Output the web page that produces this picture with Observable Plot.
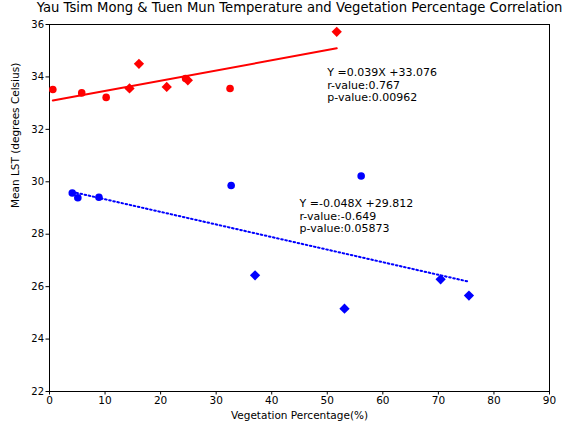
<!DOCTYPE html>
<html><head><meta charset="utf-8">
<script src="https://cdn.jsdelivr.net/npm/d3@7"></script>
<script src="https://cdn.jsdelivr.net/npm/@observablehq/plot@0.6"></script>
<style>body{margin:0;background:#fff;}</style>
</head><body><div id="chart"></div>
<script>
// ---- data ----
const titleText = "Yau Tsim Mong & Tuen Mun Temperature and Vegetation Percentage Correlation";
const xLabel = "Vegetation Percentage(%)";
const yLabel = "Mean LST (degrees Celsius)";
const xTicks = [0, 10, 20, 30, 40, 50, 60, 70, 80, 90];
const yTicks = [22, 24, 26, 28, 30, 32, 34, 36];

// red series (circles / diamonds)
const redCircleVeg  = [0.6, 5.8, 10.2, 24.5, 32.5];
const redCircleLST  = [33.52, 33.39, 33.22, 33.94, 33.56];
const redDiamondVeg = [14.4, 16.1, 21.1, 24.9, 51.7];
const redDiamondLST = [33.56, 34.50, 33.62, 33.87, 35.72];
// blue series (circles / diamonds)
const blueCircleVeg  = [4.1, 5.1, 8.9, 32.7, 56.1];
const blueCircleLST  = [29.57, 29.39, 29.41, 29.86, 30.22];
const blueDiamondVeg = [37.0, 53.1, 70.4, 75.5];
const blueDiamondLST = [26.43, 25.16, 26.28, 25.66];

// regression results printed on the chart
const redSlope = 0.039, redIntercept = 33.076, redR = "0.767", redP = "0.00962";
const blueSlope = -0.048, blueIntercept = 29.812, blueR = "-0.649", blueP = "0.05873";
const annotX = [50, 45];
const annotY = [33, 28];

// ---- build tables ----
const zip = (xs, ys) => xs.map((x, i) => ({x, y: ys[i]}));
const redCircles = zip(redCircleVeg, redCircleLST);
const redDiamonds = zip(redDiamondVeg, redDiamondLST);
const blueCircles = zip(blueCircleVeg, blueCircleLST);
const blueDiamonds = zip(blueDiamondVeg, blueDiamondLST);
const fitLine = (xs, m, b) => d3.extent(xs).map(x => ({x, y: m * x + b}));
const redLine = fitLine([...redCircleVeg, ...redDiamondVeg], redSlope, redIntercept);
const blueLine = fitLine([...blueCircleVeg, ...blueDiamondVeg], blueSlope, blueIntercept);
const annotations = [
  {x: annotX[0], y: annotY[0], text: `Y =${redSlope}X +${redIntercept}\nr-value:${redR}\np-value:${redP}`},
  {x: annotX[1], y: annotY[1], text: `Y =${blueSlope}X +${blueIntercept}\nr-value:${blueR}\np-value:${blueP}`}
];

const chart = Plot.plot({
  width: 568,
  height: 430,
  marginLeft: 49,
  marginRight: 19,
  marginTop: 24,
  marginBottom: 39,
  style: {fontFamily: "DejaVu Sans", fontSize: "10px", background: "white", color: "black"},
  x: {domain: [0, 90]},
  y: {domain: [22, 36]},
  marks: [
    Plot.axisX({ticks: xTicks, tickFormat: d => d, tickSize: 3.5, tickPadding: 2, label: null, fontSize: 10.5}),
    Plot.axisY({ticks: yTicks, tickFormat: d => d, tickSize: 3.5, tickPadding: 2, label: null, fontSize: 10}),
    Plot.frame({stroke: "black", strokeWidth: 1}),
    Plot.dot(redCircles, {x: "x", y: "y", r: 3.8, fill: "#ff0000", symbol: "circle"}),
    Plot.dot(redDiamonds, {x: "x", y: "y", r: 4.1, fill: "#ff0000", symbol: "square", rotate: 45}),
    Plot.dot(blueCircles, {x: "x", y: "y", r: 3.8, fill: "#0000ff", symbol: "circle"}),
    Plot.dot(blueDiamonds, {x: "x", y: "y", r: 4.1, fill: "#0000ff", symbol: "square", rotate: 45}),
    Plot.line(redLine, {x: "x", y: "y", stroke: "#ff0000", strokeWidth: 2}),
    Plot.line(blueLine, {x: "x", y: "y", stroke: "#0000ff", strokeWidth: 2, strokeDasharray: "1.6,2.6"}),
    Plot.text(annotations, {x: "x", y: "y", dy: -2, text: "text", textAnchor: "start", lineAnchor: "bottom", fontSize: 11, lineHeight: 1.15, fill: "black"}),
    Plot.text([titleText], {frameAnchor: "top", lineAnchor: "top", dy: -22, fontSize: 13.2, fill: "black"}),
    Plot.text([xLabel], {frameAnchor: "bottom", dy: 27, fontSize: 10.5, fill: "black"}),
    Plot.text([yLabel], {frameAnchor: "left", dx: -34, rotate: -90, fontSize: 10.5, fill: "black"})
  ]
});
document.getElementById("chart").appendChild(chart);
</script>
</body></html>
